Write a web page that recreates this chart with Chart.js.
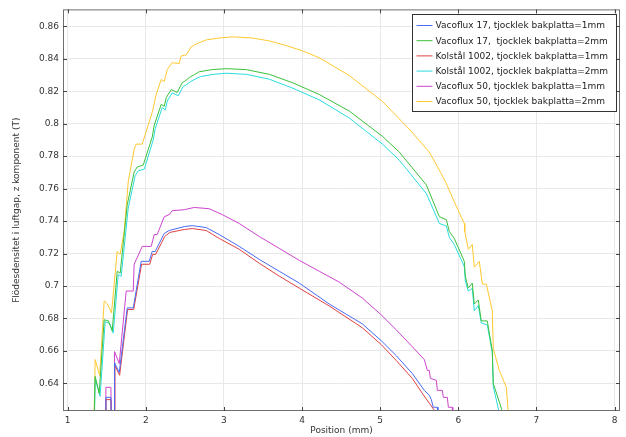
<!DOCTYPE html>
<html>
<head>
<meta charset="utf-8">
<script src="https://cdn.jsdelivr.net/npm/chart.js@4/dist/chart.umd.min.js"></script>
<style>
    body { margin: 0; background: #fff; }
    #wrap { width: 626px; height: 437px; }
</style>
</head>
<body>
<div id="wrap"><canvas id="chart" width="626" height="437"></canvas></div>
<script>
// Values (position in mm, flux density in T)
const vf17_1mm_x = [1.48, 1.489, 1.553, 1.566, 1.595, 1.600, 1.660, 1.762, 1.839, 1.941, 2.044, 2.082, 2.121, 2.236, 2.300, 2.492, 2.594, 2.773, 2.940, 3.196, 3.452, 3.708, 3.964, 4.348, 4.771, 5.014, 5.206, 5.411, 5.565, 5.629, 5.655, 5.680, 5.732, 5.740];
const vf17_1mm_y = [0.60, 0.6314, 0.6314, 0.60, 0.60, 0.6528, 0.6467, 0.6865, 0.6865, 0.7152, 0.7152, 0.7213, 0.7213, 0.7324, 0.7342, 0.7366, 0.7372, 0.7360, 0.7317, 0.7244, 0.7164, 0.7091, 0.7018, 0.6889, 0.6767, 0.6663, 0.6571, 0.6461, 0.6357, 0.6327, 0.6300, 0.6253, 0.6253, 0.60];

const vf17_2mm_x = [1.330, 1.352, 1.403, 1.467, 1.522, 1.570, 1.634, 1.672, 1.762, 1.851, 1.890, 1.967, 2.082, 2.108, 2.197, 2.236, 2.262, 2.325, 2.402, 2.466, 2.492, 2.556, 2.620, 2.684, 2.850, 3.029, 3.286, 3.580, 3.875, 4.220, 4.604, 5.027, 5.245, 5.591, 5.758, 5.847, 5.885, 5.949, 6.077, 6.090, 6.128, 6.179, 6.205, 6.256, 6.294, 6.371, 6.435, 6.448, 6.551, 6.576];
const vf17_2mm_y = [0.60, 0.6443, 0.6339, 0.6792, 0.6785, 0.6724, 0.7091, 0.7079, 0.7500, 0.7703, 0.7733, 0.7745, 0.7917, 0.7990, 0.8119, 0.8107, 0.8161, 0.8210, 0.8192, 0.8253, 0.8259, 0.8284, 0.8302, 0.8320, 0.8333, 0.8339, 0.8333, 0.8304, 0.8253, 0.8180, 0.8078, 0.7923, 0.7825, 0.7623, 0.7427, 0.7409, 0.7336, 0.7293, 0.7152, 0.7061, 0.6987, 0.7018, 0.6889, 0.6914, 0.6785, 0.6785, 0.6602, 0.6400, 0.6247, 0.60];

const k1002_1mm_x = [1.48, 1.489, 1.553, 1.566, 1.600, 1.605, 1.665, 1.767, 1.845, 1.946, 2.050, 2.088, 2.127, 2.242, 2.306, 2.492, 2.594, 2.773, 2.940, 3.196, 3.452, 3.708, 3.964, 4.348, 4.771, 5.014, 5.206, 5.411, 5.539, 5.629, 5.719, 5.725];
const k1002_1mm_y = [0.60, 0.6300, 0.6300, 0.60, 0.60, 0.6510, 0.6450, 0.6855, 0.6855, 0.7134, 0.7134, 0.7195, 0.7195, 0.7305, 0.7330, 0.7348, 0.7354, 0.7342, 0.7293, 0.7226, 0.7140, 0.7061, 0.6987, 0.6877, 0.6743, 0.6639, 0.6541, 0.6431, 0.6339, 0.6278, 0.6217, 0.60];

const k1002_2mm_x = [1.335, 1.352, 1.415, 1.480, 1.535, 1.583, 1.647, 1.685, 1.775, 1.864, 1.903, 1.980, 2.095, 2.121, 2.210, 2.249, 2.275, 2.338, 2.415, 2.479, 2.505, 2.569, 2.633, 2.700, 2.850, 3.029, 3.286, 3.580, 3.875, 4.220, 4.604, 5.027, 5.245, 5.591, 5.758, 5.847, 5.885, 5.949, 6.077, 6.090, 6.128, 6.179, 6.205, 6.256, 6.294, 6.371, 6.435, 6.448, 6.525, 6.540];
const k1002_2mm_y = [0.60, 0.6430, 0.6320, 0.6780, 0.6770, 0.6710, 0.7070, 0.7060, 0.7480, 0.7680, 0.7710, 0.7720, 0.7900, 0.7970, 0.8100, 0.8085, 0.8140, 0.8190, 0.8172, 0.8230, 0.8235, 0.8258, 0.8275, 0.8290, 0.8303, 0.8311, 0.8304, 0.8274, 0.8220, 0.8147, 0.8035, 0.7875, 0.7775, 0.7570, 0.7385, 0.7370, 0.7300, 0.7255, 0.7120, 0.7030, 0.6969, 0.6985, 0.6847, 0.6880, 0.6773, 0.6760, 0.6590, 0.6380, 0.6217, 0.60];

const vf50_1mm_x = [1.48, 1.489, 1.553, 1.566, 1.595, 1.600, 1.660, 1.749, 1.839, 1.851, 1.954, 2.069, 2.108, 2.146, 2.236, 2.300, 2.338, 2.492, 2.620, 2.812, 2.978, 3.196, 3.452, 3.708, 3.964, 4.220, 4.476, 4.771, 5.014, 5.206, 5.411, 5.565, 5.604, 5.629, 5.642, 5.719, 5.732, 5.796, 5.809, 5.860, 5.873, 5.923, 5.930];
const vf50_1mm_y = [0.60, 0.6376, 0.6376, 0.60, 0.60, 0.6596, 0.6522, 0.6969, 0.6969, 0.7134, 0.7244, 0.7244, 0.7317, 0.7317, 0.7427, 0.7440, 0.7464, 0.7470, 0.7484, 0.7476, 0.7440, 0.7385, 0.7305, 0.7232, 0.7158, 0.7091, 0.7024, 0.6926, 0.6822, 0.6730, 0.6626, 0.6547, 0.6480, 0.6480, 0.6431, 0.6419, 0.6357, 0.6357, 0.6314, 0.6314, 0.6253, 0.6253, 0.60];

const vf50_2mm_x = [1.330, 1.352, 1.410, 1.467, 1.509, 1.561, 1.634, 1.672, 1.723, 1.775, 1.851, 1.877, 1.954, 2.082, 2.133, 2.197, 2.236, 2.274, 2.338, 2.428, 2.453, 2.517, 2.581, 2.658, 2.773, 2.940, 3.106, 3.362, 3.580, 3.798, 4.003, 4.220, 4.604, 5.027, 5.373, 5.629, 5.783, 5.847, 5.949, 6.077, 6.083, 6.128, 6.179, 6.205, 6.269, 6.308, 6.359, 6.435, 6.448, 6.525, 6.615, 6.640, 6.645];
const vf50_2mm_y = [0.60, 0.6547, 0.6449, 0.6908, 0.6890, 0.6834, 0.7213, 0.7195, 0.7336, 0.7642, 0.7843, 0.7874, 0.7874, 0.8070, 0.8180, 0.8272, 0.8260, 0.8333, 0.8376, 0.8370, 0.8418, 0.8424, 0.8473, 0.8494, 0.8516, 0.8528, 0.8535, 0.8528, 0.8510, 0.8481, 0.8449, 0.8406, 0.8297, 0.8138, 0.7966, 0.7825, 0.7691, 0.7630, 0.7519, 0.7385, 0.7336, 0.7226, 0.7256, 0.7116, 0.7152, 0.7012, 0.7012, 0.6847, 0.6614, 0.6480, 0.6376, 0.6217, 0.60];

const labels = [
    'Vacoflux 17, tjocklek bakplatta=1mm',
    'Vacoflux 17,  tjocklek bakplatta=2mm',
    'Kolstål 1002, tjocklek bakplatta=1mm',
    'Kolstål 1002, tjocklek bakplatta=2mm',
    'Vacoflux 50, tjocklek bakplatta=1mm',
    'Vacoflux 50, tjocklek bakplatta=2mm'
];
const colors = ['#4a6af5', '#3cc03c', '#e04040', '#2adcdc', '#cc44cc', '#ffc830'];

const series = [
    [vf17_1mm_x, vf17_1mm_y],
    [vf17_2mm_x, vf17_2mm_y],
    [k1002_1mm_x, k1002_1mm_y],
    [k1002_2mm_x, k1002_2mm_y],
    [vf50_1mm_x, vf50_1mm_y],
    [vf50_2mm_x, vf50_2mm_y]
];

const FONT = 'DejaVu Sans';

// Frame, inward ticks and boxed legend inside the plot
const framePlugin = {
    id: 'frame',
    afterDraw(chart) {
        const { ctx, chartArea: a, scales: { x, y } } = chart;
        ctx.save();
        ctx.strokeStyle = '#6e6e6e';
        ctx.lineWidth = 1;
        ctx.strokeRect(a.left + 0.5, a.top + 0.5, a.right - a.left - 1, a.bottom - a.top - 1);

        ctx.strokeStyle = '#444';
        ctx.beginPath();
        x.ticks.forEach(t => {
            const px = Math.round(x.getPixelForValue(t.value)) + 0.5;
            ctx.moveTo(px, a.bottom); ctx.lineTo(px, a.bottom - 4);
            ctx.moveTo(px, a.top); ctx.lineTo(px, a.top + 4);
        });
        y.ticks.forEach(t => {
            const py = Math.round(y.getPixelForValue(t.value)) + 0.5;
            ctx.moveTo(a.left, py); ctx.lineTo(a.left + 4, py);
            ctx.moveTo(a.right, py); ctx.lineTo(a.right - 4, py);
        });
        ctx.stroke();

        // legend box
        const bx = 412.5, by = 14.5, bw = 204, bh = 97;
        ctx.fillStyle = '#fff';
        ctx.fillRect(bx, by, bw, bh);
        ctx.strokeStyle = '#333';
        ctx.strokeRect(bx, by, bw, bh);
        ctx.font = '9px ' + FONT;
        ctx.textBaseline = 'middle';
        chart.data.datasets.forEach((ds, i) => {
            const ry = by + 11 + i * 15.2;
            ctx.strokeStyle = ds.borderColor;
            ctx.beginPath();
            ctx.moveTo(bx + 4, ry); ctx.lineTo(bx + 20, ry);
            ctx.stroke();
            ctx.fillStyle = '#222';
            ctx.fillText(ds.label, bx + 23, ry + 0.5);
        });
        ctx.restore();
    }
};

const ctx = document.getElementById('chart').getContext('2d');

new Chart(ctx, {
    type: 'line',
    data: {
        datasets: series.map((s, i) => ({
            label: labels[i],
            data: s[0].map((xv, j) => ({ x: xv, y: s[1][j] })),
            borderColor: colors[i],
            backgroundColor: colors[i],
            borderWidth: 1,
            pointRadius: 0,
            tension: 0,
            fill: false
        }))
    },
    options: {
        responsive: false,
        animation: false,
        devicePixelRatio: 1,
        layout: { padding: { top: 7, right: 6, left: 0, bottom: 0 } },
        plugins: {
            legend: { display: false },
            tooltip: { enabled: false }
        },
        scales: {
            x: {
                type: 'linear',
                min: 0.94,
                max: 8.07,
                afterFit: s => { s.height = 26; },
                grid: { color: '#e8e8e8', drawTicks: false },
                border: { display: false },
                ticks: {
                    stepSize: 1,
                    includeBounds: false,
                    padding: 4,
                    maxRotation: 0,
                    color: '#333',
                    font: { family: FONT, size: 9 }
                },
                title: {
                    display: true,
                    text: 'Position (mm)',
                    color: '#333',
                    font: { family: FONT, size: 9 },
                    padding: { top: 0, bottom: 1 }
                }
            },
            y: {
                min: 0.623,
                max: 0.8704,
                afterFit: s => { s.width = 63; },
                grid: { color: '#e8e8e8', drawTicks: false },
                border: { display: false },
                ticks: {
                    stepSize: 0.02,
                    includeBounds: false,
                    padding: 4,
                    color: '#333',
                    font: { family: FONT, size: 9 },
                    callback: v => String(parseFloat(v.toFixed(2)))
                },
                title: {
                    display: true,
                    text: 'Flödesdensitet i luftgap, z komponent (T)',
                    color: '#333',
                    font: { family: FONT, size: 9 },
                    padding: { top: 11, bottom: 0 }
                }
            }
        }
    },
    plugins: [framePlugin]
});
</script>
</body>
</html>
